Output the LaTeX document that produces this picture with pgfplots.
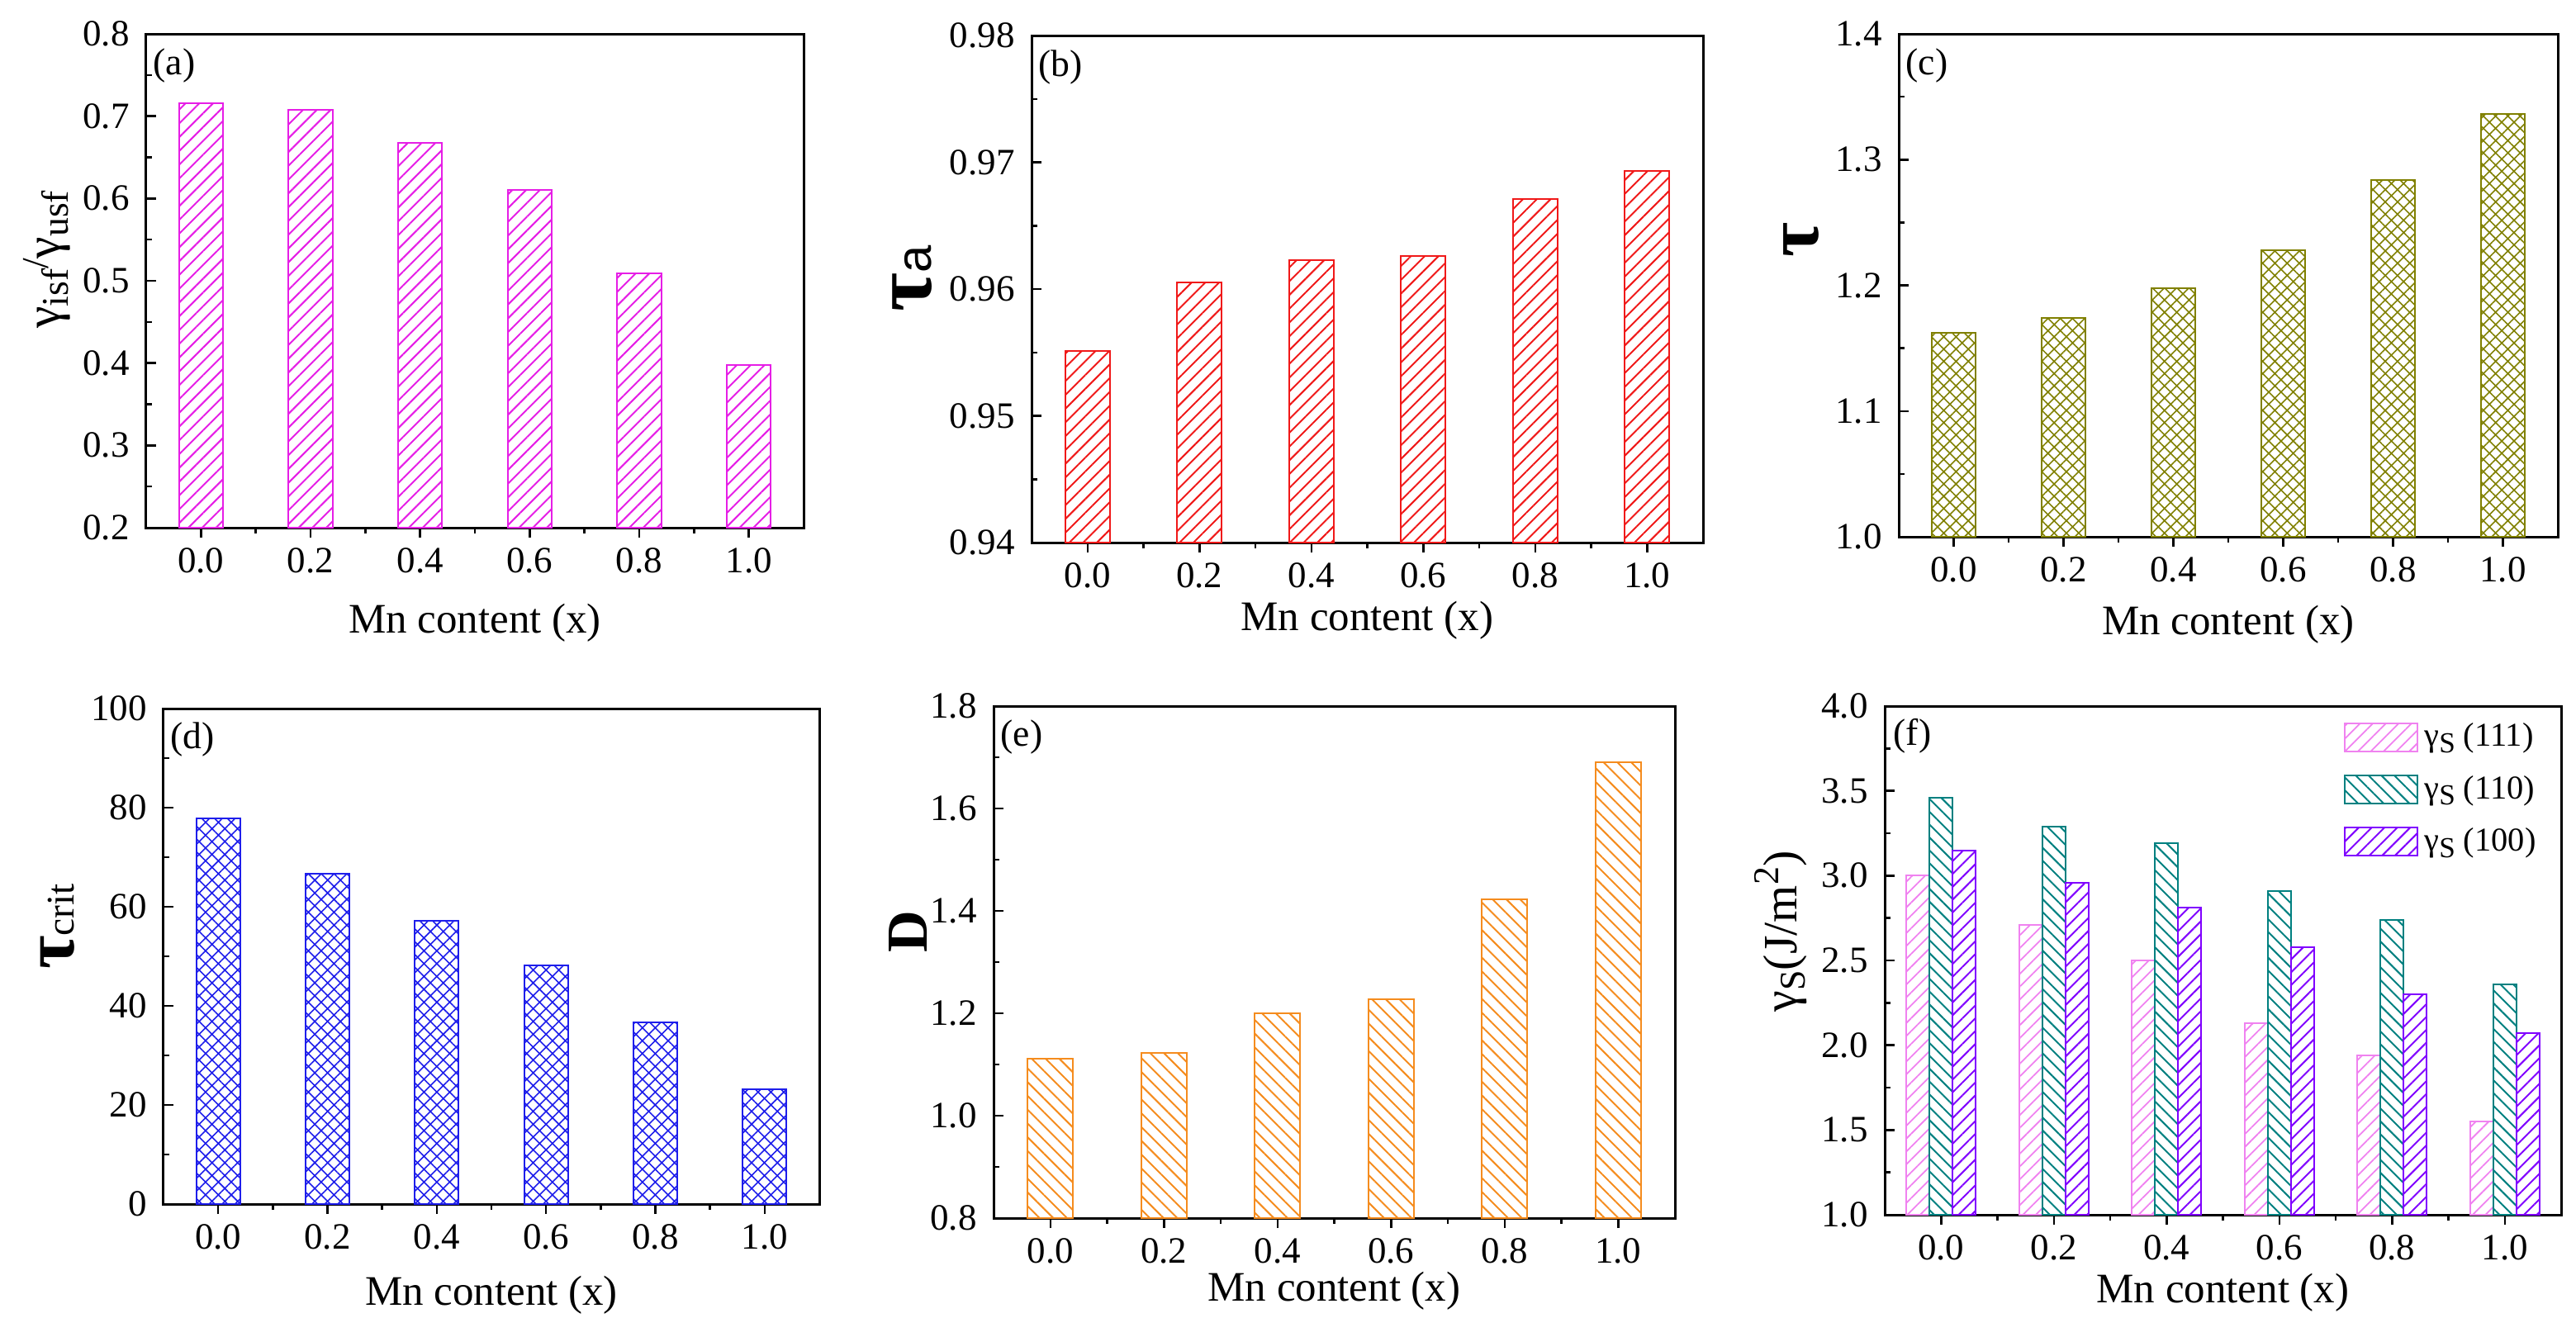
\documentclass[border=0pt]{standalone}
\usepackage{fontspec}
\setmainfont{Liberation Serif}
\newfontfamily\sansf{Liberation Sans}
\usepackage{pgfplots}
\pgfplotsset{compat=1.18}
\usetikzlibrary{patterns.meta}

\definecolor{cA}{RGB}{230,30,230}
\definecolor{cB}{RGB}{240,25,25}
\definecolor{cC}{RGB}{128,128,0}
\definecolor{cD}{RGB}{30,30,235}
\definecolor{cE}{RGB}{245,140,30}
\definecolor{cF}{RGB}{240,130,240}
\definecolor{cG}{RGB}{0,128,128}
\definecolor{cH}{RGB}{128,0,255}

\newcommand{\fs}[1]{\fontsize{#1}{#1}\selectfont}

\pgfplotsset{
  panel/.style={
    scale only axis, anchor=south west,
    xmin=-0.1, xmax=1.1,
    xtick={0,0.2,0.4,0.6,0.8,1.0},
    xticklabels={0.0,0.2,0.4,0.6,0.8,1.0},
    minor x tick num=1, minor y tick num=1,
    tick align=inside, xtick pos=bottom, ytick pos=left,
    major tick length=0.12cm, minor tick length=0.07cm,
    tick style={black, line width=0.025cm},
    axis line style={line width=0.03cm},
    tick label style={font=\fs{12.8}},
    /pgf/number format/assume math mode=true,
    yticklabel style={xshift=-0.08cm},
    xticklabel style={yshift=0cm},
    clip=false,
    ybar, bar width=0.08,
  },
  sw/.style={legend image code/.code={\draw[##1, line width=0.02cm] (0cm,-0.17cm) rectangle (0.88cm,0.17cm);}},
}

\begin{document}
\begin{tikzpicture}
\path[use as bounding box] (0,0) rectangle (31.19,16.18);

% (a)
\begin{axis}[panel, at={(1.77cm,9.79cm)}, width=7.96cm, height=5.98cm,
  ymin=0.2, ymax=0.8, ytick={0.2,0.3,0.4,0.5,0.6,0.7,0.8},
  yticklabel style={/pgf/number format/.cd, fixed, fixed zerofill, precision=1}]
\addplot[draw=cA, line width=0.02cm, pattern={Lines[angle=45,distance=0.118cm,line width=0.02cm]}, pattern color=cA]
  coordinates {(0,0.716) (0.2,0.708) (0.4,0.668) (0.6,0.610) (0.8,0.509) (1.0,0.398)};
\node[anchor=west, inner sep=0, font=\fs{13}, xshift=0.08cm, yshift=-0.38cm] at (rel axis cs:0,1) {(a)};
\node[rotate=90] at ([xshift=-1.20cm]rel axis cs:0,0.543) {\fs{17}γ\raisebox{-0.35ex}{\fs{13}isf}\raisebox{0.5ex}{\fs{13}/}γ\raisebox{-0.35ex}{\fs{13}usf}};
\node[font=\fs{14.5}] at ([yshift=-1.15cm]rel axis cs:0.5,0) {Mn content (x)};
\end{axis}

% (b)
\begin{axis}[panel, at={(12.49cm,9.61cm)}, width=8.13cm, height=6.14cm,
  ymin=0.94, ymax=0.98, ytick={0.94,0.95,0.96,0.97,0.98},
  yticklabel style={/pgf/number format/.cd, fixed, fixed zerofill, precision=2}]
\addplot[draw=cB, line width=0.02cm, pattern={Lines[angle=45,distance=0.118cm,line width=0.02cm]}, pattern color=cB]
  coordinates {(0,0.9551) (0.2,0.9605) (0.4,0.9623) (0.6,0.9626) (0.8,0.9671) (1.0,0.9693)};
\node[anchor=west, inner sep=0, font=\fs{13}, xshift=0.08cm, yshift=-0.38cm] at (rel axis cs:0,1) {(b)};
\node[rotate=90] at ([xshift=-1.44cm]rel axis cs:0,0.52) {{\fs{29}\bfseries τ}{\sansf\fs{17}a}};
\node[font=\fs{14.5}] at ([yshift=-0.94cm]rel axis cs:0.5,0) {Mn content (x)};
\end{axis}

% (c)
\begin{axis}[panel, at={(22.99cm,9.68cm)}, width=7.98cm, height=6.09cm,
  ymin=1.0, ymax=1.4, ytick={1.0,1.1,1.2,1.3,1.4},
  yticklabel style={/pgf/number format/.cd, fixed, fixed zerofill, precision=1}]
\addplot[draw=cC, line width=0.02cm, pattern={Hatch[angle=45,distance=0.105cm,line width=0.016cm]}, pattern color=cC]
  coordinates {(0,1.162) (0.2,1.174) (0.4,1.198) (0.6,1.228) (0.8,1.284) (1.0,1.336)};
\node[anchor=west, inner sep=0, font=\fs{13}, xshift=0.08cm, yshift=-0.38cm] at (rel axis cs:0,1) {(c)};
\node[rotate=90] at ([xshift=-1.18cm]rel axis cs:0,0.59) {\fs{26}\bfseries τ};
\node[font=\fs{14.5}] at ([yshift=-1.06cm]rel axis cs:0.5,0) {Mn content (x)};
\end{axis}

% (d)
\begin{axis}[panel, at={(1.98cm,1.60cm)}, width=7.94cm, height=6.00cm,
  ymin=0, ymax=100, ytick={0,20,40,60,80,100}]
\addplot[draw=cD, line width=0.02cm, pattern={Hatch[angle=45,distance=0.11cm,line width=0.016cm]}, pattern color=cD]
  coordinates {(0,77.8) (0.2,66.6) (0.4,57.1) (0.6,48.1) (0.8,36.7) (1.0,23.1)};
\node[anchor=west, inner sep=0, font=\fs{13}, xshift=0.08cm, yshift=-0.38cm] at (rel axis cs:0,1) {(d)};
\node[rotate=90] at ([xshift=-1.28cm]rel axis cs:0,0.56) {{\fs{25}\bfseries τ}{\fs{13.5}crit}};
\node[font=\fs{14.5}] at ([yshift=-1.10cm]rel axis cs:0.5,0) {Mn content (x)};
\end{axis}

% (e)
\begin{axis}[panel, at={(12.03cm,1.43cm)}, width=8.25cm, height=6.20cm,
  ymin=0.8, ymax=1.8, ytick={0.8,1.0,1.2,1.4,1.6,1.8},
  yticklabel style={/pgf/number format/.cd, fixed, fixed zerofill, precision=1}]
\addplot[draw=cE, line width=0.02cm, pattern={Lines[angle=-45,distance=0.118cm,line width=0.02cm]}, pattern color=cE]
  coordinates {(0,1.112) (0.2,1.122) (0.4,1.200) (0.6,1.227) (0.8,1.423) (1.0,1.690)};
\node[anchor=west, inner sep=0, font=\fs{13}, xshift=0.08cm, yshift=-0.38cm] at (rel axis cs:0,1) {(e)};
\node[rotate=90] at ([xshift=-1.03cm]rel axis cs:0,0.56) {\fs{20}\bfseries D};
\node[font=\fs{14.5}] at ([yshift=-0.88cm]rel axis cs:0.5,0) {Mn content (x)};
\end{axis}

% (f)
\begin{axis}[panel, at={(22.82cm,1.47cm)}, width=8.19cm, height=6.16cm,
  ymin=1.0, ymax=4.0, ytick={1.0,1.5,2.0,2.5,3.0,3.5,4.0},
  yticklabel style={/pgf/number format/.cd, fixed, fixed zerofill, precision=1},
  bar width=0.041,
  legend cell align=left,
  legend style={draw=none, fill=none, at={(0.985,0.99)}, anchor=north east, font=\fs{11.5}, row sep=0.16cm}]
\addplot[sw, bar shift=-0.041, draw=cF, line width=0.02cm, pattern={Lines[angle=45,distance=0.11cm,line width=0.018cm]}, pattern color=cF]
  coordinates {(0,3.00) (0.2,2.71) (0.4,2.50) (0.6,2.13) (0.8,1.94) (1.0,1.55)};
\addlegendentry{γ\raisebox{-0.4ex}{\fs{10}S} (111)}
\addplot[sw, bar shift=0, draw=cG, line width=0.02cm, pattern={Lines[angle=-45,distance=0.11cm,line width=0.02cm]}, pattern color=cG]
  coordinates {(0,3.46) (0.2,3.29) (0.4,3.19) (0.6,2.91) (0.8,2.74) (1.0,2.36)};
\addlegendentry{γ\raisebox{-0.4ex}{\fs{10}S} (110)}
\addplot[sw, bar shift=0.041, draw=cH, line width=0.02cm, pattern={Lines[angle=45,distance=0.11cm,line width=0.02cm]}, pattern color=cH]
  coordinates {(0,3.15) (0.2,2.96) (0.4,2.81) (0.6,2.58) (0.8,2.30) (1.0,2.07)};
\addlegendentry{γ\raisebox{-0.4ex}{\fs{10}S} (100)}
\node[anchor=west, inner sep=0, font=\fs{13}, xshift=0.1cm, yshift=-0.36cm] at (rel axis cs:0,1) {(f)};
\node[rotate=90] at ([xshift=-1.26cm]rel axis cs:0,0.557) {\fs{16.5}γ\raisebox{-0.4ex}{\fs{12.5}S}(J/m\raisebox{0.8ex}{\fs{12.5}2})};
\node[font=\fs{14.5}] at ([yshift=-0.94cm]rel axis cs:0.5,0) {Mn content (x)};
\end{axis}

\end{tikzpicture}
\end{document}
